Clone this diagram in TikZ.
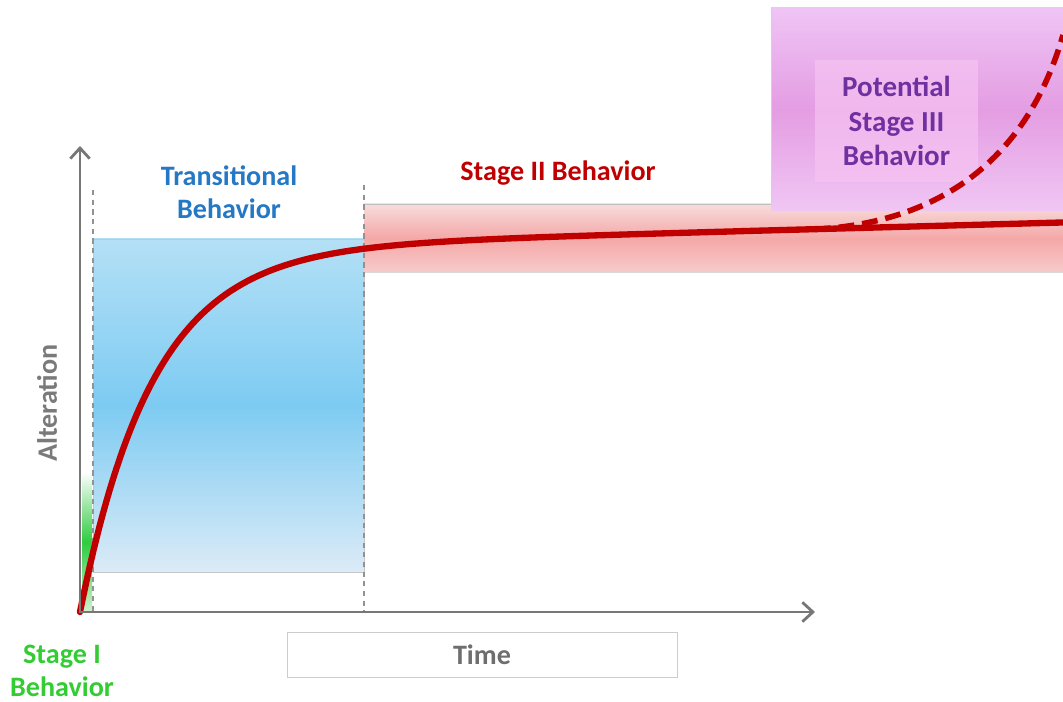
\documentclass[tikz,border=0pt]{standalone}
\usepackage{fontspec}
\setmainfont{Carlito}
\usetikzlibrary{arrows.meta}
\definecolor{axisgray}{HTML}{777777}
\definecolor{txtgray}{HTML}{7A7A7A}
\definecolor{curvered}{HTML}{C00000}
\definecolor{bluetxt}{HTML}{2478C4}
\definecolor{purptxt}{HTML}{7030A0}
\definecolor{greentxt}{HTML}{33CC33}
\definecolor{blueA}{HTML}{B4E0F6}
\definecolor{blueB}{HTML}{7DCBF2}
\definecolor{blueC}{HTML}{DCEBF7}
\definecolor{pinkA}{HTML}{F8DCDD}
\definecolor{pinkB}{HTML}{F4A8A7}
\definecolor{pinkC}{HTML}{F7CACA}
\definecolor{purpA}{HTML}{EFC4F5}
\definecolor{purpB}{HTML}{E49DE2}
\definecolor{purpC}{HTML}{F0C6F4}
\definecolor{purpbox}{HTML}{F6C3F2}
\definecolor{greenB}{HTML}{2ECC40}
\definecolor{greenC}{HTML}{CFF2CF}
\tikzset{
  axisline/.style={draw=axisgray, line width=1.6pt, -{Straight Barb[length=6pt,width=11pt,line width=1.6pt]}},
  divider/.style={draw=axisgray!80, line width=0.9pt, dashed, dash pattern=on 3pt off 2.5pt},
  label/.style={font=\bfseries\fontsize{16}{19}\selectfont, align=center, inner sep=0pt},
  mainline/.style={draw=curvered, line width=3.6pt, line cap=round},
}
\begin{document}
\begin{tikzpicture}[x=0.02cm, y=-0.02cm]
\useasboundingbox (0,0) rectangle (1063,702);
% Transitional box
\path[top color=blueA, bottom color=blueC, middle color=blueB, draw=gray!45, line width=0.4pt] (93,239) rectangle (364,572);
% Stage II band
\path[top color=pinkA, bottom color=pinkC, middle color=pinkB] (364,204) rectangle (1063,272);
\draw[gray!50, line width=0.5pt] (364,204) -- (771,204);
\draw[gray!30, line width=0.5pt] (364,272) -- (1063,272);
% Stage III region
\path[top color=purpA, bottom color=purpC, middle color=purpB] (771,8) rectangle (1063,211);
\draw[gray!35, line width=0.5pt] (771,204) -- (771,8);
\node[fill=purpbox, fill opacity=0.7, text opacity=1, minimum width=3.26cm, minimum height=2.44cm, inner sep=0pt] (s3box) at (896.5,121) {};
\node[label, text=purptxt, font=\bfseries\fontsize{16.5}{19.8}\selectfont] (s3) at (896.5,121) {Potential\\Stage III\\Behavior};
% Stage I bar
\path[top color=white, bottom color=greenC, middle color=greenB] (82,472) rectangle (92,612);
% dividers
\coordinate (d1t) at (93,190); \coordinate (d1b) at (93,612);
\coordinate (d2t) at (364,185); \coordinate (d2b) at (364,612);
\draw[divider] (d1t) -- (d1b);
\draw[divider] (d2t) -- (d2b);
% curves
\draw[mainline, dashed, dash pattern=on 9pt off 4.5pt, line cap=butt, line width=3.2pt] (815,229.3) .. controls (950,222) and (1030,150) .. (1063,35);
\draw[mainline] plot[domain=80:1063, samples=300] (\x, {612 - 363*(1-exp(-(\x-80)/73)) - 0.027*(\x-80)});
% axes
\coordinate (origin) at (80,612);
\coordinate (ytop) at (80,146);
\coordinate (xend) at (815,612);
\draw[axisline] (78.5,612) -- (xend);
\draw[axisline] (80,613) -- (ytop);
% labels
\node[label, text=bluetxt] (trans) at (229,192) {Transitional\\Behavior};
\node[label, text=curvered] (s2) at (558,173) {Stage II Behavior};
\node[label, text=greentxt] (s1) at (62,671) {Stage I\\Behavior};
\node[label, text=txtgray, rotate=90] (alt) at (47,403) {Alteration};
\node[draw=gray!40, line width=0.5pt, minimum width=7.8cm, minimum height=0.9cm, inner sep=0pt] (timebox) at (482,654.5) {};
\node[label, text=txtgray!90!black] (time) at (482,655) {Time};
\end{tikzpicture}
\end{document}
